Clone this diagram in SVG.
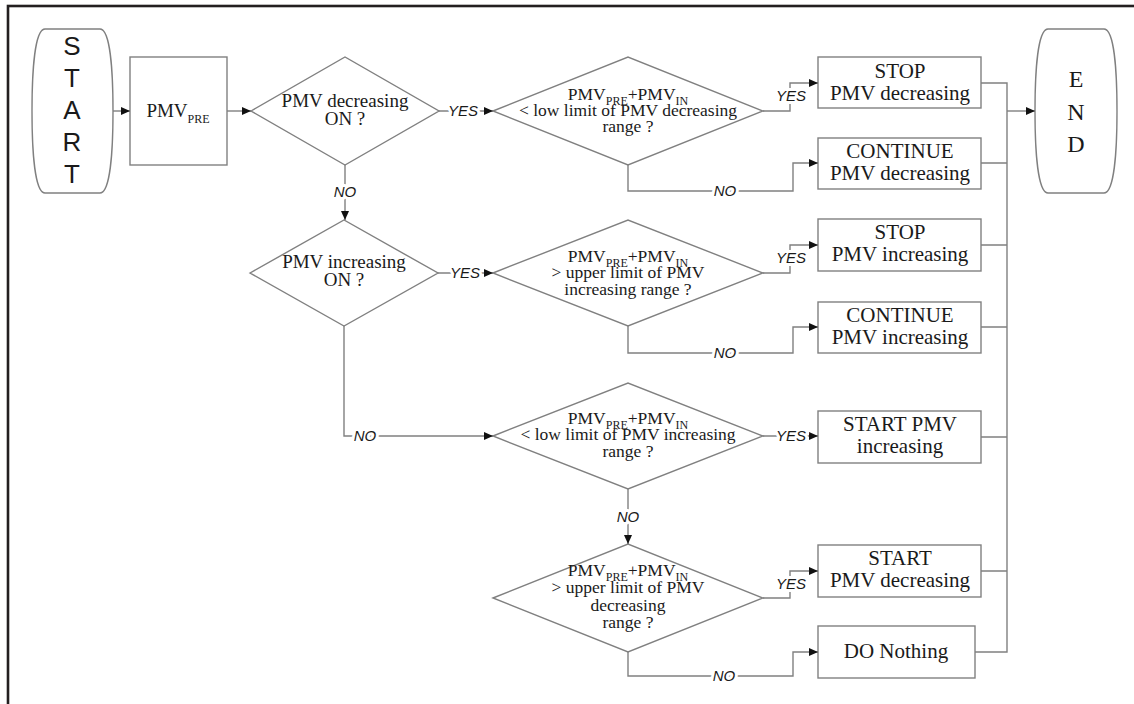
<svg xmlns="http://www.w3.org/2000/svg" width="1134" height="704" viewBox="0 0 1134 704">
  <defs>
    <style>
      .shape { fill: #ffffff; stroke: #808080; stroke-width: 1.4; }
      .wire { fill: none; stroke: #808080; stroke-width: 1.4; }
      .serif { font-family: "Liberation Serif", "Times New Roman", serif; fill: #1a1a1a; text-anchor: middle; }
      .box { font-size: 21px; }
      .dq { font-size: 19px; }
      .cond { font-size: 17.5px; }
      .sub { font-size: 12px; }
      .term { font-family: "Liberation Sans", Arial, sans-serif; font-size: 26px; fill: #1a1a1a; text-anchor: middle; }
      .endt { font-family: "Liberation Serif", "Times New Roman", serif; font-size: 24px; fill: #1a1a1a; text-anchor: middle; }
      .lbl { font-family: "Liberation Sans", Arial, sans-serif; font-size: 15px; font-style: italic; fill: #1a1a1a; text-anchor: middle; paint-order: stroke; stroke: #ffffff; stroke-width: 6px; stroke-linejoin: round; }
    </style>
    <marker id="arrow" markerUnits="userSpaceOnUse" markerWidth="10" markerHeight="8" refX="9" refY="4" orient="auto">
      <path d="M0,0 L9,4 L0,8 Z" fill="#111111"/>
    </marker>
  </defs>

  <rect width="1134" height="704" fill="#ffffff"/>
  <!-- page frame -->
  <rect x="8" y="6" width="1150" height="720" fill="none" stroke="#231f20" stroke-width="2.6"/>

  <!-- terminals -->
  <g id="start">
    <path class="shape" d="M45 29 H100 C110 29 113 70 113 111 C113 152 110 193 100 193 H45 C35 193 32 152 32 111 C32 70 35 29 45 29 Z"/>
    <text class="term" x="72" y="55">S</text>
    <text class="term" x="72" y="87">T</text>
    <text class="term" x="72" y="119">A</text>
    <text class="term" x="72" y="151">R</text>
    <text class="term" x="72" y="183">T</text>
  </g>
  <g id="end">
    <path class="shape" d="M1048 29 H1104 C1114 29 1117 70 1117 111 C1117 152 1114 193 1104 193 H1048 C1038 193 1035 152 1035 111 C1035 70 1038 29 1048 29 Z"/>
    <text class="endt" x="1076" y="87">E</text>
    <text class="endt" x="1076" y="120">N</text>
    <text class="endt" x="1076" y="152">D</text>
  </g>

  <g id="pmv-pre">
    <rect class="shape" x="130" y="57" width="97" height="108"/>
    <text class="serif" x="178" y="117" font-size="19px">PMV<tspan class="sub" font-size="13px" dy="6">PRE</tspan></text>
  </g>

  <!-- decisions -->
  <g id="dec-on">
    <polygon class="shape" points="251,111 345,57 439,111 345,165"/>
    <text class="serif dq" x="345" y="107">PMV decreasing</text>
    <text class="serif dq" x="345" y="125">ON ?</text>
  </g>
  <g id="inc-on">
    <polygon class="shape" points="250,273 344,220 438,273 344,326"/>
    <text class="serif dq" x="344" y="268">PMV increasing</text>
    <text class="serif dq" x="344" y="286">ON ?</text>
  </g>
  <g id="below-dec-low">
    <polygon class="shape" points="493,111 628,57 763,111 628,165"/>
    <text class="serif cond" x="628" y="100">PMV<tspan class="sub" dy="5">PRE</tspan><tspan dy="-5">+PMV</tspan><tspan class="sub" dy="5">IN</tspan></text>
    <text class="serif cond" x="628" y="116">&lt; low limit of PMV decreasing</text>
    <text class="serif cond" x="628" y="132">range ?</text>
  </g>
  <g id="above-inc-high">
    <polygon class="shape" points="493,273 628,220 763,273 628,326"/>
    <text class="serif cond" x="628" y="262">PMV<tspan class="sub" dy="5">PRE</tspan><tspan dy="-5">+PMV</tspan><tspan class="sub" dy="5">IN</tspan></text>
    <text class="serif cond" x="628" y="278">&gt; upper limit of PMV</text>
    <text class="serif cond" x="628" y="295">increasing range ?</text>
  </g>
  <g id="below-inc-low">
    <polygon class="shape" points="493,436 628,383 763,436 628,489"/>
    <text class="serif cond" x="628" y="424">PMV<tspan class="sub" dy="5">PRE</tspan><tspan dy="-5">+PMV</tspan><tspan class="sub" dy="5">IN</tspan></text>
    <text class="serif cond" x="628" y="440">&lt; low limit of PMV increasing</text>
    <text class="serif cond" x="628" y="457">range ?</text>
  </g>
  <g id="above-dec-high">
    <polygon class="shape" points="493,598 628,544 763,598 628,652"/>
    <text class="serif cond" x="628" y="576">PMV<tspan class="sub" dy="5">PRE</tspan><tspan dy="-5">+PMV</tspan><tspan class="sub" dy="5">IN</tspan></text>
    <text class="serif cond" x="628" y="593">&gt; upper limit of PMV</text>
    <text class="serif cond" x="628" y="611">decreasing</text>
    <text class="serif cond" x="628" y="628">range ?</text>
  </g>

  <!-- actions -->
  <g id="stop-dec">
    <rect class="shape" x="818" y="57" width="163" height="51"/>
    <text class="serif box" x="900" y="78">STOP</text>
    <text class="serif box" x="900" y="100">PMV decreasing</text>
  </g>
  <g id="cont-dec">
    <rect class="shape" x="818" y="138" width="163" height="51"/>
    <text class="serif box" x="900" y="158">CONTINUE</text>
    <text class="serif box" x="900" y="180">PMV decreasing</text>
  </g>
  <g id="stop-inc">
    <rect class="shape" x="818" y="219" width="163" height="52"/>
    <text class="serif box" x="900" y="239">STOP</text>
    <text class="serif box" x="900" y="261">PMV increasing</text>
  </g>
  <g id="cont-inc">
    <rect class="shape" x="818" y="302" width="163" height="51"/>
    <text class="serif box" x="900" y="322">CONTINUE</text>
    <text class="serif box" x="900" y="344">PMV increasing</text>
  </g>
  <g id="start-inc">
    <rect class="shape" x="818" y="411" width="163" height="52"/>
    <text class="serif box" x="900" y="431">START PMV</text>
    <text class="serif box" x="900" y="453">increasing</text>
  </g>
  <g id="start-dec">
    <rect class="shape" x="818" y="545" width="163" height="52"/>
    <text class="serif box" x="900" y="565">START</text>
    <text class="serif box" x="900" y="587">PMV decreasing</text>
  </g>
  <g id="do-nothing">
    <rect class="shape" x="818" y="626" width="157" height="52"/>
    <text class="serif box" x="896" y="658">DO Nothing</text>
  </g>

  <!-- connectors -->
  <g id="connectors">
    <path class="wire" d="M113 111 H130" marker-end="url(#arrow)"/>
    <path class="wire" d="M227 111 H251" marker-end="url(#arrow)"/>
    <path class="wire" d="M439 111 H493" marker-end="url(#arrow)"/>
    <path class="wire" d="M345 165 V220" marker-end="url(#arrow)"/>
    <path class="wire" d="M763 111 H790 V83 H818" marker-end="url(#arrow)"/>
    <path class="wire" d="M628 165 V191 H793 V163 H818" marker-end="url(#arrow)"/>
    <path class="wire" d="M438 273 H493" marker-end="url(#arrow)"/>
    <path class="wire" d="M344 326 V436 H493" marker-end="url(#arrow)"/>
    <path class="wire" d="M763 273 H790 V245 H818" marker-end="url(#arrow)"/>
    <path class="wire" d="M628 326 V353 H793 V327 H818" marker-end="url(#arrow)"/>
    <path class="wire" d="M763 436 H818" marker-end="url(#arrow)"/>
    <path class="wire" d="M628 489 V544" marker-end="url(#arrow)"/>
    <path class="wire" d="M763 598 H790 V571 H818" marker-end="url(#arrow)"/>
    <path class="wire" d="M628 652 V676 H793 V652 H818" marker-end="url(#arrow)"/>
    <!-- collector bus into END -->
    <path class="wire" d="M981 83 H1007 V652 H975"/>
    <path class="wire" d="M981 163 H1007 M981 245 H1007 M981 327 H1007 M981 437 H1007 M981 571 H1007"/>
    <path class="wire" d="M1007 111 H1035" marker-end="url(#arrow)"/>

    <text class="lbl" x="463" y="116">YES</text>
    <text class="lbl" x="345" y="197">NO</text>
    <text class="lbl" x="791" y="101">YES</text>
    <text class="lbl" x="725" y="196">NO</text>
    <text class="lbl" x="465" y="278">YES</text>
    <text class="lbl" x="365" y="441">NO</text>
    <text class="lbl" x="791" y="263">YES</text>
    <text class="lbl" x="725" y="358">NO</text>
    <text class="lbl" x="791" y="441">YES</text>
    <text class="lbl" x="628" y="522">NO</text>
    <text class="lbl" x="791" y="589">YES</text>
    <text class="lbl" x="724" y="681">NO</text>
  </g>
</svg>
